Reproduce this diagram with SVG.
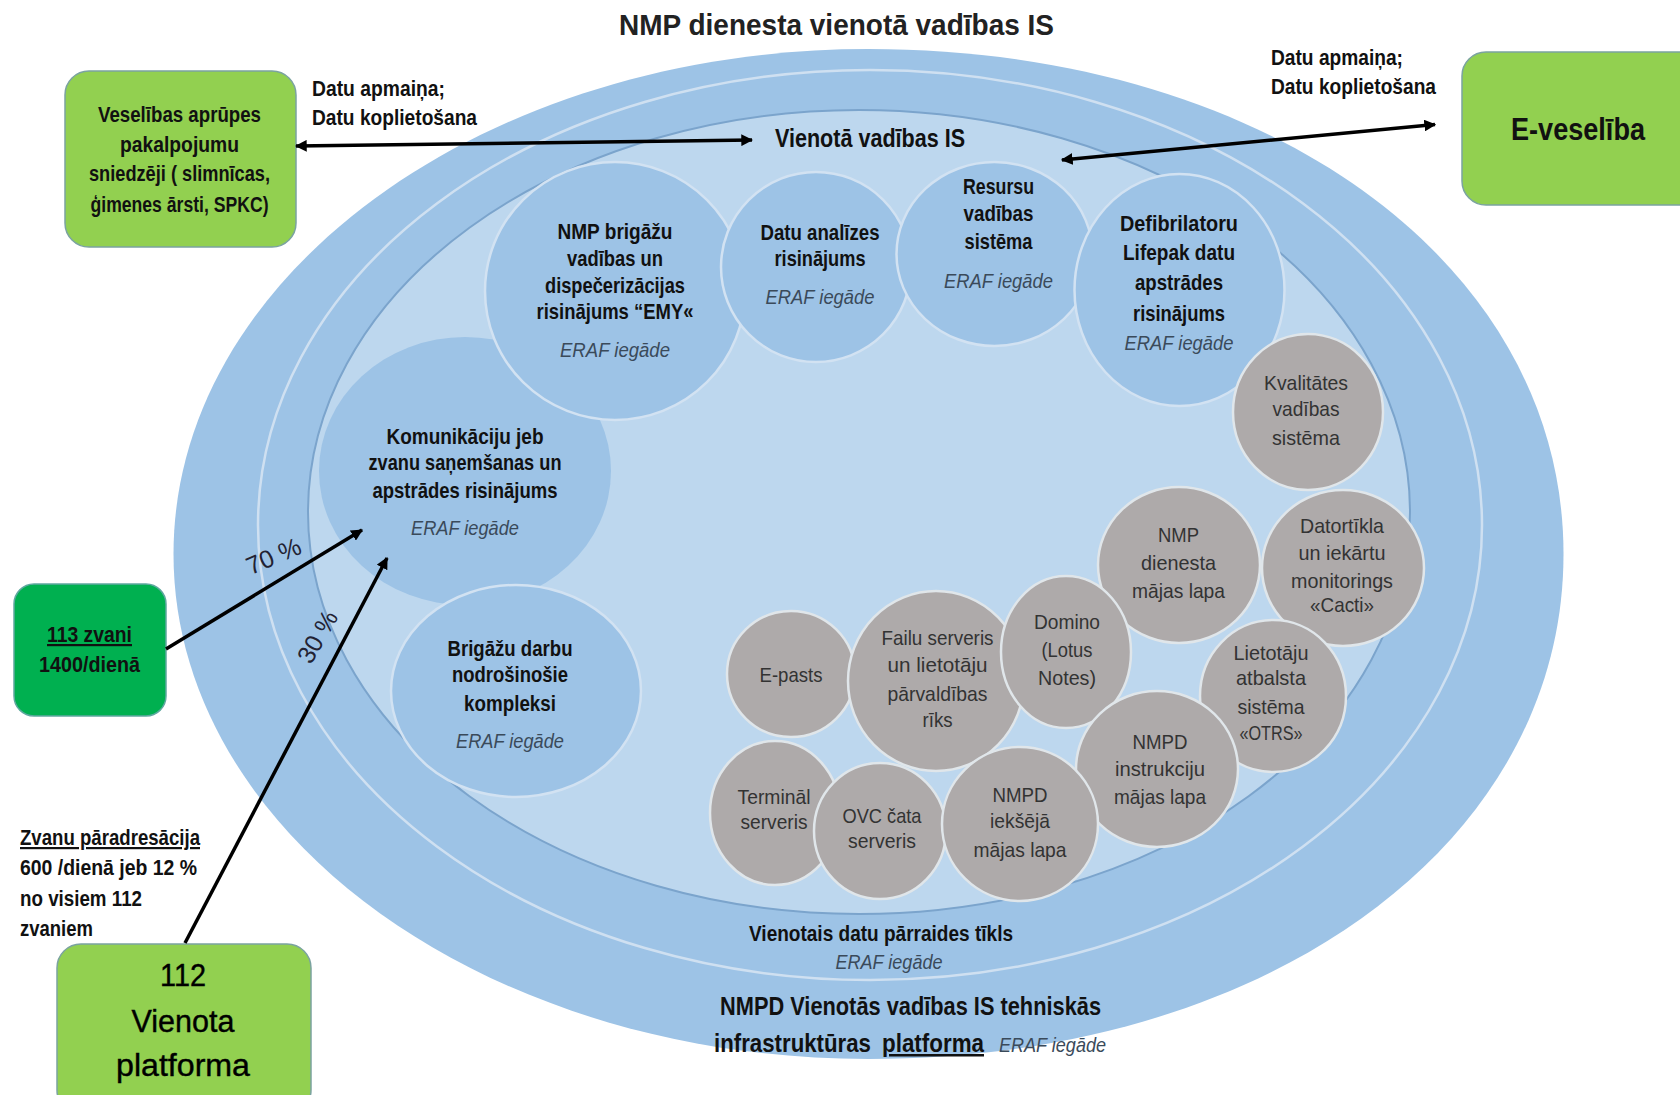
<svg xmlns="http://www.w3.org/2000/svg" width="1680" height="1095" viewBox="0 0 1680 1095">
<style>
text{font-family:"Liberation Sans",Arial,sans-serif;text-anchor:middle;fill:#111}
.b{font-weight:bold;font-size:22px}
.r{font-size:21px;fill:#333}
.i{font-style:italic;font-size:21px;fill:#3a4a5a}
.l{text-anchor:start}
.u{text-decoration:underline}
.n{fill:#9dc3e6;stroke:#d2e2f2;stroke-width:2.5}
.g{fill:#aeaaaa;stroke:#e0e6ea;stroke-width:2.5}
.c{stroke:#000;stroke-width:3.5;fill:none}
.t{font-size:31px;fill:#000;stroke:#000;stroke-width:.4}
.h{font-size:25px}
</style>
<defs>
<marker id="h" viewBox="0 0 10 10" refX="9" refY="5" markerWidth="3.4" markerHeight="3.4" orient="auto-start-reverse"><path d="M0 0L10 5L0 10Z" fill="#000"/></marker>
</defs>
<rect width="1680" height="1095" fill="#fff"/>
<g id="background">
<path d="M868.5 49C1268 49 1563.500 264 1563.500 554C1563.500 844 1268 1059 868.500 1059C484.700 1059 173.500 833 173.500 554C173.500 275 484.700 49 868.500 49Z" fill="#9dc3e6"/>
<ellipse cx="870" cy="525" rx="612" ry="455" fill="#9dc3e6" stroke="#cfe0f1" stroke-width="2.5"/>
<ellipse cx="859" cy="512" rx="551" ry="402" fill="#bdd7ee" stroke="#7ba4cc" stroke-width="2"/>
</g>
<text x="836.5" y="35" style="font-size:30px;font-weight:bold;fill:#222" textLength="435" lengthAdjust="spacingAndGlyphs">NMP dienesta vienotā vadības IS</text>
<g id="kom"><ellipse cx="465" cy="471" rx="146" ry="134" fill="#9dc3e6"/>
<text class="b" x="465" y="444" textLength="157" lengthAdjust="spacingAndGlyphs">Komunikāciju jeb</text>
<text class="b" x="465" y="470" textLength="193" lengthAdjust="spacingAndGlyphs">zvanu saņemšanas un</text>
<text class="b" x="465" y="498" textLength="185" lengthAdjust="spacingAndGlyphs">apstrādes risinājums</text>
<text class="i" x="465" y="535" textLength="108" lengthAdjust="spacingAndGlyphs">ERAF iegāde</text></g>
<g id="nmp"><ellipse class="n" cx="615" cy="291" rx="130" ry="129"/>
<text class="b" x="615" y="239" textLength="115" lengthAdjust="spacingAndGlyphs">NMP brigāžu</text>
<text class="b" x="615" y="266" textLength="96" lengthAdjust="spacingAndGlyphs">vadības un</text>
<text class="b" x="615" y="293" textLength="140" lengthAdjust="spacingAndGlyphs">dispečerizācijas</text>
<text class="b" x="615" y="319" textLength="157" lengthAdjust="spacingAndGlyphs">risinājums “EMY«</text>
<text class="i" x="615" y="357" textLength="110" lengthAdjust="spacingAndGlyphs">ERAF iegāde</text></g>
<g id="datu"><ellipse class="n" cx="816" cy="267" rx="95" ry="95"/>
<text class="b" x="820" y="240" textLength="119" lengthAdjust="spacingAndGlyphs">Datu analīzes</text>
<text class="b" x="820" y="266" textLength="91" lengthAdjust="spacingAndGlyphs">risinājums</text>
<text class="i" x="820" y="304" textLength="109" lengthAdjust="spacingAndGlyphs">ERAF iegāde</text></g>
<g id="resursu"><ellipse class="n" cx="994.5" cy="254" rx="98" ry="92"/>
<text class="b" x="998.500" y="194" textLength="71" lengthAdjust="spacingAndGlyphs">Resursu</text>
<text class="b" x="998.500" y="221" textLength="70" lengthAdjust="spacingAndGlyphs">vadības</text>
<text class="b" x="998.500" y="249" textLength="68" lengthAdjust="spacingAndGlyphs">sistēma</text>
<text class="i" x="998.500" y="288" textLength="109" lengthAdjust="spacingAndGlyphs">ERAF iegāde</text></g>
<g id="defib"><ellipse class="n" cx="1179.5" cy="290" rx="105" ry="116"/>
<text class="b" x="1179" y="231" textLength="118" lengthAdjust="spacingAndGlyphs">Defibrilatoru</text>
<text class="b" x="1179" y="260" textLength="112" lengthAdjust="spacingAndGlyphs">Lifepak datu</text>
<text class="b" x="1179" y="290" textLength="88" lengthAdjust="spacingAndGlyphs">apstrādes</text>
<text class="b" x="1179" y="321" textLength="92" lengthAdjust="spacingAndGlyphs">risinājums</text>
<text class="i" x="1179" y="350" textLength="109" lengthAdjust="spacingAndGlyphs">ERAF iegāde</text></g>
<g id="brigazu"><ellipse class="n" cx="516" cy="691" rx="125" ry="106"/>
<text class="b" x="510" y="656" textLength="125" lengthAdjust="spacingAndGlyphs">Brigāžu darbu</text>
<text class="b" x="510" y="682" textLength="116" lengthAdjust="spacingAndGlyphs">nodrošinošie</text>
<text class="b" x="510" y="711" textLength="92" lengthAdjust="spacingAndGlyphs">kompleksi</text>
<text class="i" x="510" y="748" textLength="108" lengthAdjust="spacingAndGlyphs">ERAF iegāde</text></g>
<g id="kvalitates"><ellipse class="g" cx="1308" cy="412" rx="75" ry="78"/>
<text class="r" x="1306" y="390" textLength="84" lengthAdjust="spacingAndGlyphs">Kvalitātes</text>
<text class="r" x="1306" y="416" textLength="67" lengthAdjust="spacingAndGlyphs">vadības</text>
<text class="r" x="1306" y="445" textLength="68" lengthAdjust="spacingAndGlyphs">sistēma</text></g>
<g id="dienesta"><ellipse class="g" cx="1179" cy="565" rx="81" ry="78"/>
<text class="r" x="1178.500" y="542" textLength="41" lengthAdjust="spacingAndGlyphs">NMP</text>
<text class="r" x="1178.500" y="570" textLength="75" lengthAdjust="spacingAndGlyphs">dienesta</text>
<text class="r" x="1178.500" y="598" textLength="93" lengthAdjust="spacingAndGlyphs">mājas lapa</text></g>
<g id="datortikla"><ellipse class="g" cx="1343" cy="568" rx="81" ry="78"/>
<text class="r" x="1342" y="533" textLength="84" lengthAdjust="spacingAndGlyphs">Datortīkla</text>
<text class="r" x="1342" y="560" textLength="87" lengthAdjust="spacingAndGlyphs">un iekārtu</text>
<text class="r" x="1342" y="588" textLength="102" lengthAdjust="spacingAndGlyphs">monitorings</text>
<text class="r" x="1342" y="612" textLength="64" lengthAdjust="spacingAndGlyphs">«Cacti»</text></g>
<g id="epasts"><ellipse class="g" cx="791" cy="674" rx="64" ry="63"/>
<text class="r" x="791" y="682" textLength="63" lengthAdjust="spacingAndGlyphs">E-pasts</text></g>
<g id="failu"><ellipse class="g" cx="936" cy="681" rx="88" ry="90"/>
<text class="r" x="937.500" y="645" textLength="112" lengthAdjust="spacingAndGlyphs">Failu serveris</text>
<text class="r" x="937.500" y="672" textLength="100" lengthAdjust="spacingAndGlyphs">un lietotāju</text>
<text class="r" x="937.500" y="701" textLength="100" lengthAdjust="spacingAndGlyphs">pārvaldības</text>
<text class="r" x="937.500" y="727" textLength="30" lengthAdjust="spacingAndGlyphs">rīks</text></g>
<g id="domino"><ellipse class="g" cx="1066" cy="652" rx="65" ry="76"/>
<text class="r" x="1067" y="629" textLength="66" lengthAdjust="spacingAndGlyphs">Domino</text>
<text class="r" x="1067" y="657" textLength="51" lengthAdjust="spacingAndGlyphs">(Lotus</text>
<text class="r" x="1067" y="685" textLength="58" lengthAdjust="spacingAndGlyphs">Notes)</text></g>
<g id="lietotaju"><ellipse class="g" cx="1273" cy="696" rx="73" ry="76"/>
<text class="r" x="1271" y="660" textLength="75" lengthAdjust="spacingAndGlyphs">Lietotāju</text>
<text class="r" x="1271" y="685" textLength="70" lengthAdjust="spacingAndGlyphs">atbalsta</text>
<text class="r" x="1271" y="714" textLength="67" lengthAdjust="spacingAndGlyphs">sistēma</text>
<text class="r" x="1271" y="740" textLength="63" lengthAdjust="spacingAndGlyphs">«OTRS»</text></g>
<g id="instrukciju"><ellipse class="g" cx="1157" cy="769" rx="81" ry="78"/>
<text class="r" x="1160" y="749" textLength="55" lengthAdjust="spacingAndGlyphs">NMPD</text>
<text class="r" x="1160" y="776" textLength="90" lengthAdjust="spacingAndGlyphs">instrukciju</text>
<text class="r" x="1160" y="804" textLength="92" lengthAdjust="spacingAndGlyphs">mājas lapa</text></g>
<g id="terminal"><ellipse class="g" cx="775" cy="813" rx="65" ry="72"/>
<text class="r" x="774" y="804" textLength="73" lengthAdjust="spacingAndGlyphs">Termināl</text>
<text class="r" x="774" y="829" textLength="67" lengthAdjust="spacingAndGlyphs">serveris</text></g>
<g id="ovc"><ellipse class="g" cx="880" cy="831" rx="66" ry="68"/>
<text class="r" x="882" y="823" textLength="79" lengthAdjust="spacingAndGlyphs">OVC čata</text>
<text class="r" x="882" y="848" textLength="68" lengthAdjust="spacingAndGlyphs">serveris</text></g>
<g id="iekseja"><ellipse class="g" cx="1020" cy="824" rx="78" ry="77"/>
<text class="r" x="1020" y="802" textLength="55" lengthAdjust="spacingAndGlyphs">NMPD</text>
<text class="r" x="1020" y="828" textLength="60" lengthAdjust="spacingAndGlyphs">iekšējā</text>
<text class="r" x="1020" y="857" textLength="93" lengthAdjust="spacingAndGlyphs">mājas lapa</text></g>
<g id="veseliba"><rect x="65" y="71" width="231" height="176" rx="24" ry="24" fill="#92d050" stroke="#7ba3a0" stroke-width="1.5"/>
<text class="b" x="179.500" y="122" textLength="163" lengthAdjust="spacingAndGlyphs">Veselības aprūpes</text>
<text class="b" x="179.500" y="152" textLength="119" lengthAdjust="spacingAndGlyphs">pakalpojumu</text>
<text class="b" x="179.500" y="181" textLength="181" lengthAdjust="spacingAndGlyphs">sniedzēji ( slimnīcas,</text>
<text class="b" x="179.500" y="212" textLength="178" lengthAdjust="spacingAndGlyphs">ģimenes ārsti, SPKC)</text></g>
<g id="eveseliba"><rect x="1462" y="52" width="240" height="153" rx="24" ry="24" fill="#92d050" stroke="#7ba3a0" stroke-width="1.5"/>
<text class="b" x="1578" y="140" style="font-size:32px" textLength="134" lengthAdjust="spacingAndGlyphs">E-veselība</text></g>
<g id="zvani113"><rect x="14" y="584" width="152" height="132" rx="20" ry="20" fill="#00b050" stroke="#5fa8a0" stroke-width="1.5"/>
<text class="b u" x="89.500" y="642" textLength="85" lengthAdjust="spacingAndGlyphs">113 zvani</text>
<text class="b" x="89.500" y="672" textLength="101" lengthAdjust="spacingAndGlyphs">1400/dienā</text></g>
<g id="platforma112"><rect x="57" y="944" width="254" height="170" rx="24" ry="24" fill="#92d050" stroke="#7ba3a0" stroke-width="1.5"/>
<text class="t" x="183" y="986" textLength="46" lengthAdjust="spacingAndGlyphs">112</text>
<text class="t" x="183" y="1032" textLength="103" lengthAdjust="spacingAndGlyphs">Vienota</text>
<text class="t" x="183" y="1076" textLength="134" lengthAdjust="spacingAndGlyphs">platforma</text></g>
<g id="connectors">
<line class="c" x1="296" y1="146" x2="752" y2="140" marker-start="url(#h)" marker-end="url(#h)"/>
<line class="c" x1="1435" y1="124.5" x2="1062" y2="160" marker-start="url(#h)" marker-end="url(#h)"/>
<line class="c" x1="166" y1="649" x2="362" y2="530" marker-end="url(#h)"/>
<line class="c" x1="185" y1="943" x2="387" y2="558" marker-end="url(#h)"/>
</g>
<g id="labels">
<text class="b l" x="312" y="96" textLength="133" lengthAdjust="spacingAndGlyphs">Datu apmaiņa;</text>
<text class="b l" x="312" y="125" textLength="165" lengthAdjust="spacingAndGlyphs">Datu koplietošana</text>
<text class="b l" x="1271" y="65" textLength="132" lengthAdjust="spacingAndGlyphs">Datu apmaiņa;</text>
<text class="b l" x="1271" y="94" textLength="165" lengthAdjust="spacingAndGlyphs">Datu koplietošana</text>
<text class="b" x="870" y="147" style="font-size:26px" textLength="190" lengthAdjust="spacingAndGlyphs">Vienotā vadības IS</text>
<text class="r" transform="translate(277,564) rotate(-23)" x="0" y="0" style="font-size:25px;fill:#223" textLength="57" lengthAdjust="spacingAndGlyphs">70 %</text>
<text class="r" transform="translate(325,641) rotate(-60)" x="0" y="0" style="font-size:25px;fill:#223" textLength="56" lengthAdjust="spacingAndGlyphs">30 %</text>
<text class="b l u" x="20" y="845" textLength="180" lengthAdjust="spacingAndGlyphs">Zvanu pāradresācija</text>
<text class="b l" x="20" y="875" textLength="177" lengthAdjust="spacingAndGlyphs">600 /dienā jeb 12 %</text>
<text class="b l" x="20" y="906" textLength="122" lengthAdjust="spacingAndGlyphs">no visiem 112</text>
<text class="b l" x="20" y="936" textLength="73" lengthAdjust="spacingAndGlyphs">zvaniem</text>
<text class="b" x="881" y="941" textLength="264" lengthAdjust="spacingAndGlyphs">Vienotais datu pārraides tīkls</text>
<text class="i" x="889" y="969" textLength="107" lengthAdjust="spacingAndGlyphs">ERAF iegāde</text>
<text class="b h" x="910.500" y="1015" textLength="381" lengthAdjust="spacingAndGlyphs">NMPD Vienotās vadības IS tehniskās</text>
<text class="b h" x="792.500" y="1052" textLength="157" lengthAdjust="spacingAndGlyphs">infrastruktūras</text>
<text class="b h u" x="933" y="1052" textLength="102" lengthAdjust="spacingAndGlyphs">platforma</text>
<text class="i" x="1052.500" y="1052" textLength="107" lengthAdjust="spacingAndGlyphs">ERAF iegāde</text>
</g>
</svg>
